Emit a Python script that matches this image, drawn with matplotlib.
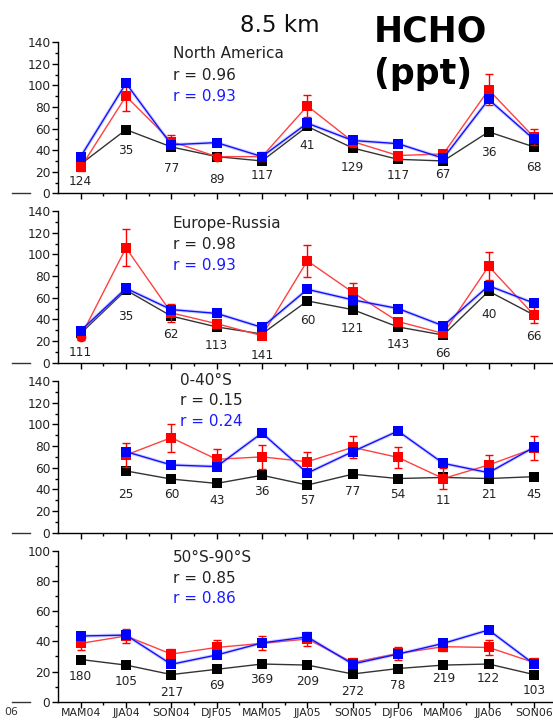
import numpy as np
import matplotlib
matplotlib.use('Agg')
import matplotlib.pyplot as plt
from matplotlib.ticker import MultipleLocator, FixedLocator

plt.rcParams['font.family'] = ['DejaVu Sans']

# 계절 (x축)
seasons = ['MAM04', 'JJA04', 'SON04', 'DJF05', 'MAM05', 'JJA05',
           'SON05', 'DJF06', 'MAM06', 'JJA06', 'SON06']
nan = np.nan

# North America
na_black = [27, 59, 43, 34, 30, 62, 42, 31.5, 30, 57, 43]
na_red = [24, 90, 48, 34, 34, 81, 48, 35, 36.5, 96, 52]
na_red_err = [3, 14, 6, 2, 4, 10.5, 5, 3, 3, 14.5, 7.5]
na_blue = [34, 102, 45, 47, 34, 65, 49, 46, 32.5, 87, 50]
na_n = ['124', '35', '77', '89', '117', '41', '129', '117', '67', '36', '68']
na_n_y = [10.8, 39.5, 23.2, 13.0, 16.4, 43.9, 23.8, 16.4, 17, 37.7, 23.8]
na_circle = [3]

# Europe-Russia
er_black = [27, 67, 43, 33, 26.5, 57, 49, 33, 25.5, 66, 44]
er_red = [24, 106, 46, 36, 25, 94, 65, 38, 27, 89, 44]
er_red_err = [3, 17, 8, 4, 2, 14.5, 9, 3, 3, 13, 7]
er_blue = [29.5, 68.6, 49, 45.5, 32.6, 67.7, 58, 50, 34, 71, 55]
er_n = ['111', '35', '62', '113', '141', '60', '121', '143', '66', '40', '66']
er_n_y = [9.2, 43, 26, 15.7, 6.5, 38.5, 31.7, 17, 8.6, 44.6, 24]
er_circle = [0]

# 0-40S
sh_black = [nan, 57, 49.5, 45.5, 53, 44, 54, 50, 51, 50, 51.7]
sh_red = [nan, 71.7, 87.7, 67.7, 70, 65.5, 78.8, 69.5, 50, 62.5, 77.8]
sh_red_err = [nan, 11, 13, 9.5, 11, 9, 10, 9.5, 10, 9, 11]
sh_blue = [nan, 74.8, 62.5, 61, 92, 55, 74.8, 93.8, 64, 55.4, 78.8]
sh_n = ['', '25', '60', '43', '36', '57', '77', '54', '11', '21', '45']
sh_n_y = [nan, 34.8, 34.8, 29.5, 37.8, 29.5, 37.8, 34.8, 29.5, 34.8, 34.8]
sh_circle = []

# 50S-90S
an_black = [28, 24.3, 18, 21.5, 25, 24.3, 18.4, 22, 24.3, 25, 18]
an_red = [38.7, 43.6, 31.6, 36, 38.7, 41.6, 26, 32, 36.5, 36, 26]
an_red_err = [4.7, 4.7, 3.5, 5, 4.7, 4.5, 3, 4.5, 3, 4.7, 3]
an_blue = [43.6, 44.2, 24.8, 31, 39, 43, 25, 31.6, 38.7, 47.6, 25]
an_n = ['180', '105', '217', '69', '369', '209', '272', '78', '219', '122', '103']
an_n_y = [16.6, 13.3, 6, 11, 14.8, 13.3, 6.6, 11, 15.5, 15.5, 7.7]
an_circle = []

panels = [
    ('North America', 'r = 0.96', 'r = 0.93', na_black, na_red, na_red_err, na_blue, na_n, na_n_y, na_circle, 140),
    ('Europe-Russia', 'r = 0.98', 'r = 0.93', er_black, er_red, er_red_err, er_blue, er_n, er_n_y, er_circle, 140),
    ('0-40°S', 'r = 0.15', 'r = 0.24', sh_black, sh_red, sh_red_err, sh_blue, sh_n, sh_n_y, sh_circle, 140),
    ('50°S-90°S', 'r = 0.85', 'r = 0.86', an_black, an_red, an_red_err, an_blue, an_n, an_n_y, an_circle, 100),
]

W, H = 553, 720
fig = plt.figure(figsize=(W / 100, H / 100), dpi=100, facecolor='white')

# 패널 위치 (픽셀: top, bottom)
boxes = [(42.3, 193.3), (211, 362.7), (381, 532.7), (551, 701.7)]
left = 58
text_x = [173, 173, 180, 173]
text_base = [(58, 80, 101), (228, 249, 270), (385, 405, 426), (562, 583, 603)]

x = np.arange(len(seasons))
for i, (name, r1, r2, blk, red, rerr, blu, nlab, ny, circ, ymax) in enumerate(panels):
    top, bot = boxes[i]
    ax = fig.add_axes([left / W, 1 - bot / H, 1 - left / W, (bot - top) / H])
    ax.set_xlim(-0.5, 10.42)
    ax.set_ylim(0, ymax)

    blk = np.array(blk, dtype=float)
    red = np.array(red, dtype=float)
    blu = np.array(blu, dtype=float)

    ax.plot(x, blk, color='#333333', lw=1, zorder=2)
    ax.plot(x, blk, 's', color='black', ms=6.5, zorder=3, markeredgewidth=0)

    ax.errorbar(x, red, yerr=rerr, fmt='none', ecolor='red', elinewidth=1, capsize=3, capthick=1, zorder=4)
    ax.plot(x, red, color='#ff4040', lw=1, zorder=4)
    sq = [j for j in range(len(x)) if j not in circ]
    ax.plot(x[sq], red[sq], 's', color='red', ms=7, markeredgewidth=0, zorder=5)
    if circ:
        ax.plot(x[circ], red[circ], 'o', color='red', ms=7, markeredgewidth=0, zorder=5)

    ax.plot(x, blu, color='#8080ff', lw=2.5, alpha=0.35, zorder=5)
    ax.plot(x, blu, color='#1010ff', lw=1, zorder=6)
    ax.plot(x, blu, 's', color='#0000ff', ms=7, markeredgewidth=0, zorder=6)

    for j in range(len(x)):
        if nlab[j]:
            ax.text(x[j], ny[j], nlab[j], ha='center', va='center', fontsize=8.7, color='#222222')

    for s in ['top', 'right']:
        ax.spines[s].set_visible(False)
    ax.spines['left'].set_linewidth(1)
    ax.spines['bottom'].set_linewidth(1)
    ax.yaxis.set_major_locator(MultipleLocator(20))
    ax.yaxis.set_minor_locator(MultipleLocator(10))
    ax.xaxis.set_major_locator(FixedLocator(x))
    ax.xaxis.set_minor_locator(FixedLocator(x[:-1] + 0.5))
    ax.tick_params(which='major', direction='out', length=4, width=1, labelsize=8.7,
                   labelcolor='#222222', pad=1.5)
    ax.tick_params(axis='x', labelsize=7.8, pad=0.3)
    ax.tick_params(which='minor', direction='out', length=2.5, width=1)
    if i == 3:
        ax.set_xticklabels(seasons)
    else:
        ax.set_xticklabels([])

    b1, b2, b3 = text_base[i]
    fig.text(text_x[i] / W, 1 - b1 / H, name, fontsize=11, color='#222222', va='baseline')
    fig.text(text_x[i] / W, 1 - b2 / H, r1, fontsize=11, color='#222222', va='baseline')
    fig.text(text_x[i] / W, 1 - b3 / H, r2, fontsize=11, color='#1a1aff', va='baseline')

    # 왼쪽 잘린 부분 (옆 그림의 0 눈금)
    fig.add_artist(plt.Line2D([12 / W, 30 / W], [1 - bot / H, 1 - bot / H], color='#333333', lw=1))

fig.text(240 / W, 1 - 32 / H, '8.5 km', fontsize=16.5, color='#111111', va='baseline')
fig.text(374 / W, 1 - 42 / H, 'HCHO', fontsize=25, fontweight='bold', color='black', va='baseline')
fig.text(374 / W, 1 - 84 / H, '(ppt)', fontsize=25, fontweight='bold', color='black', va='baseline')
fig.text(18 / W, 1 - 712 / H, '06', fontsize=7.8, color='#333333', ha='right', va='center')

plt.savefig('out.png', dpi=100)
